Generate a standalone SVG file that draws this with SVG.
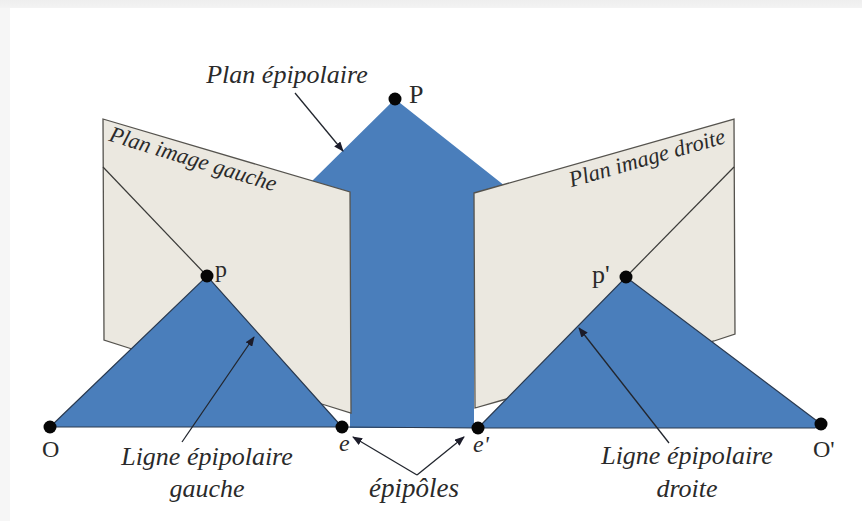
<svg xmlns="http://www.w3.org/2000/svg" width="862" height="521" viewBox="0 0 862 521">
<defs>
<linearGradient id="topBand" x1="0" y1="0" x2="0" y2="1"><stop offset="0" stop-color="#eeeeee"/><stop offset="1" stop-color="#f3f3f3"/></linearGradient>
<marker id="arrow" markerWidth="10" markerHeight="8" refX="9" refY="4" orient="auto" markerUnits="userSpaceOnUse"><path d="M0 0L10 4L0 8z" fill="#1c1c2a"/></marker>
</defs>
<style>
.plane{fill:#ebe8e0;stroke:#55534e;stroke-width:1.3}
.blue{fill:#4a7ebb}
.edge{fill:none;stroke:#2a3a50;stroke-width:1.2}
.thin{fill:none;stroke:#3a3a38;stroke-width:1.2}
.lead{fill:none;stroke:#22262e;stroke-width:1.3;marker-end:url(#arrow)}
.dot{fill:#060606}
text{font-family:"Liberation Serif",serif;fill:#2a2a2a}
.it{font-style:italic;font-size:26px;text-anchor:middle}
.pl{font-style:italic;font-size:22.5px;text-anchor:middle}
.pt{font-size:24px}
</style>
<rect width="862" height="521" fill="#ffffff"/>
<rect width="862" height="8" fill="url(#topBand)"/>
<rect y="8" width="10" height="513" fill="#f6f6f6"/>

<g id="plan-epipolaire"><path class="blue" d="M395 99L505 186L474 194L474 428L350 428L350 192L312 181z"/></g>

<g id="plan-image-gauche">
<path class="plane" d="M103 119L350 192L351 413L325 405L132 349L104 340z"/>
<path class="thin" d="M103 167L207 276"/>
<text class="pl" transform="translate(191 166) rotate(17)" x="0" y="0">Plan image gauche</text>
</g>
<g id="plan-image-droite">
<path class="plane" d="M474 193L734 119L735 334L714 341L503 400L475 408z"/>
<path class="thin" d="M734 167L626 277"/>
<text class="pl" transform="translate(649 165) rotate(-16)" x="0" y="0">Plan image droite</text>
</g>

<g id="triangle-gauche"><path class="blue" d="M50 427L207 276L342 427z"/></g>
<g id="triangle-droite"><path class="blue" d="M478 428L626 277L821 424L815 428z"/></g>

<g id="connectors">
<path class="edge" d="M50 427L207 276L342 427"/>
<path class="edge" d="M478 428L626 277L821 424"/>
<path class="edge" d="M50 427L342 427M342 427L478 428L815 428L821 424"/>
<path class="lead" d="M295 93L343 151"/>
<path class="lead" d="M182 442L254 337"/>
<path class="lead" d="M669 443L579 328"/>
<path class="lead" d="M417 475L353 437"/>
<path class="lead" d="M417 475L464 437"/>
</g>

<g id="point-P"><circle class="dot" cx="395" cy="99" r="6.5"/><text class="pt" style="font-size:26px" x="409" y="103">P</text></g>
<g id="point-p"><circle class="dot" cx="207" cy="276" r="6.5"/><text class="pt" x="215" y="277">p</text></g>
<g id="point-pp"><circle class="dot" cx="626" cy="277" r="6.5"/><text class="pt" style="font-size:26px" x="592" y="283">p'</text></g>
<g id="point-O"><circle class="dot" cx="50" cy="427" r="6.5"/><text class="pt" x="42" y="457">O</text></g>
<g id="point-e"><circle class="dot" cx="342" cy="427" r="6.5"/><text class="pt" x="339" y="451" font-style="italic">e</text></g>
<g id="point-ep"><circle class="dot" cx="478" cy="428" r="6.5"/><text class="pt" x="473" y="452" font-style="italic">e'</text></g>
<g id="point-Op"><circle class="dot" cx="821" cy="424" r="6.5"/><text class="pt" x="813" y="457">O'</text></g>

<g id="label-plan-epipolaire"><text class="it" x="287" y="83">Plan épipolaire</text></g>
<g id="label-gauche"><text class="it" x="207" y="465">Ligne épipolaire</text><text class="it" x="207" y="497">gauche</text></g>
<g id="label-epipoles"><text class="it" style="font-size:27px" x="414" y="497">épipôles</text></g>
<g id="label-droite"><text class="it" x="687" y="464">Ligne épipolaire</text><text class="it" x="687" y="497">droite</text></g>
</svg>
